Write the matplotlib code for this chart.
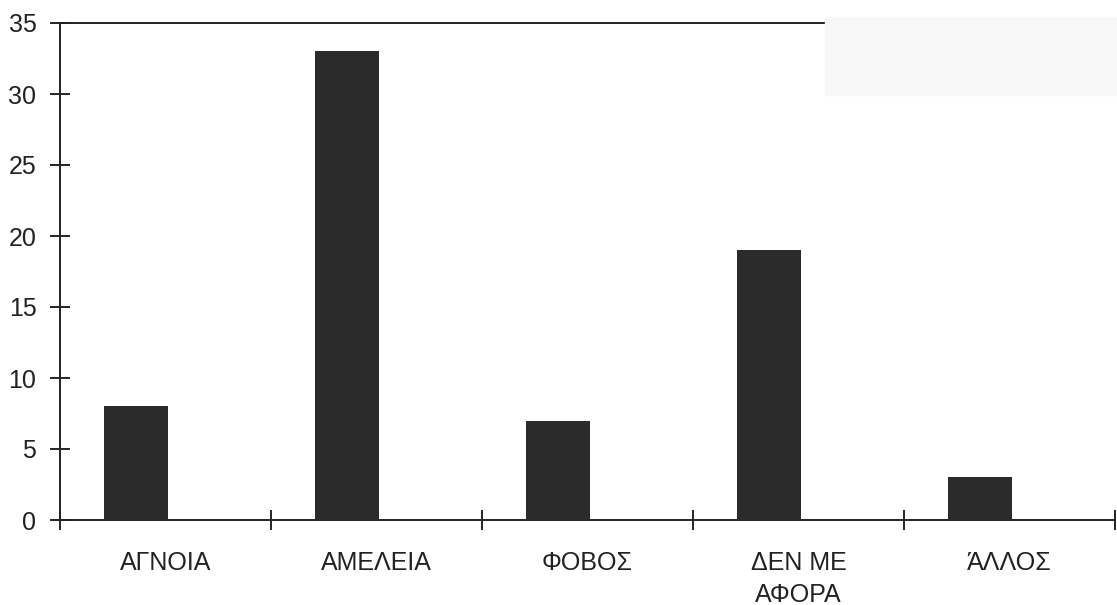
import numpy as np
import matplotlib.pyplot as plt
from matplotlib.patches import Rectangle

categories = ["ΑΓΝΟΙΑ", "ΑΜΕΛΕΙΑ", "ΦΟΒΟΣ", "ΔΕΝ ΜΕ\nΑΦΟΡΑ", "ΆΛΛΟΣ"]
values = [8, 33, 7, 19, 3]
y_ticks = [0, 5, 10, 15, 20, 25, 30, 35]

plt.rcParams['font.family'] = ['Liberation Sans', 'DejaVu Sans']

fig = plt.figure(figsize=(11.17, 6.05), dpi=100)
ax = fig.add_axes([60/1117, 1 - 520/605, 1055/1117, 497/605])

# faint scan shading in the top right corner
fig.patches.append(Rectangle((825/1117, 1 - 95/605), 292/1117, 78/605,
                             transform=fig.transFigure, color="#f8f8f8", zorder=0))

x = np.arange(len(values))
ax.bar(x + 0.36, values, width=0.30, color="#2b2b2b", align="center", zorder=3)

ax.set_xlim(0, len(values))
ax.set_ylim(0, 35)
ax.set_yticks(y_ticks)
ax.set_xticks(x + 0.5)
ax.set_xticklabels(categories, fontsize=18, linespacing=1.45, color="#222222")
ax.set_xticks(np.arange(len(values) + 1), minor=True)
ax.tick_params(axis="x", which="major", length=0, pad=22)
ax.tick_params(axis="x", which="minor", direction="inout", length=14, width=1.2)
ax.tick_params(axis="y", direction="inout", length=14, width=1.2, labelsize=18,
               pad=10, labelcolor="#222222")

ax.patch.set_alpha(0)
for s in ["left", "bottom", "top"]:
    ax.spines[s].set_linewidth(1.4)
    ax.spines[s].set_color("#222222")
ax.spines["right"].set_visible(False)

fig.savefig("out.png", dpi=100)
